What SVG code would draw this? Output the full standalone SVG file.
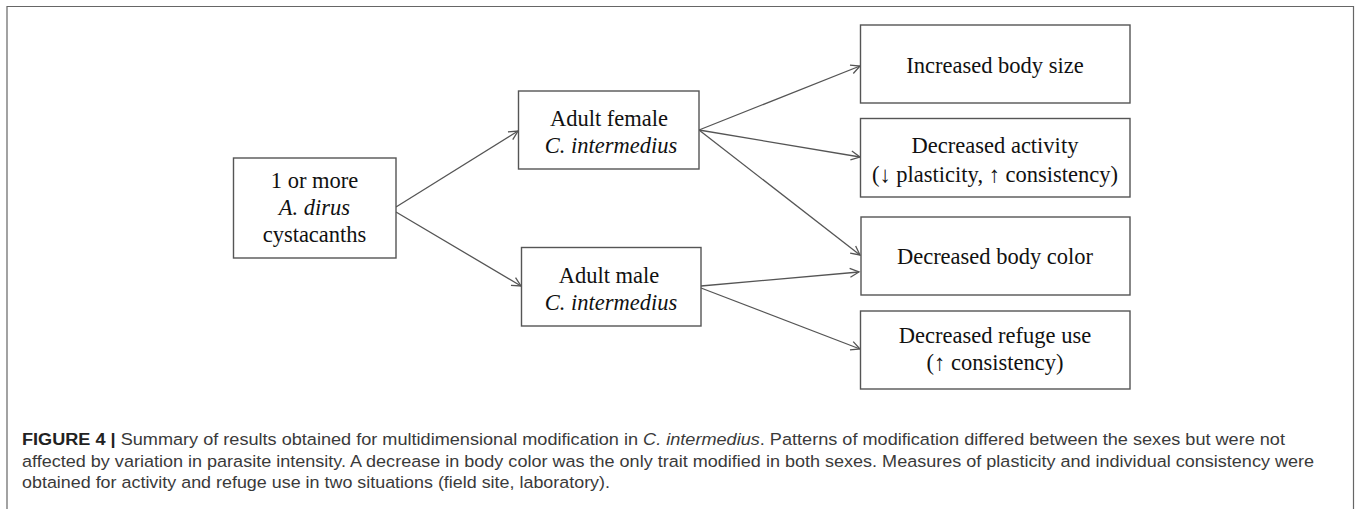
<svg xmlns="http://www.w3.org/2000/svg" width="1357" height="509" viewBox="0 0 1357 509">
<style>
.box{fill:#fff;stroke:#555;stroke-width:1.4}
.t{font-family:"Liberation Serif","Times New Roman",serif;font-size:22.5px;fill:#111;text-anchor:middle}
.i{font-style:italic}
.c{stroke:#555;stroke-width:1.3;fill:none}
.cap{font-family:"Liberation Sans",Arial,sans-serif;font-size:16.8px;fill:#3a3a3a}
</style>
<defs>
<marker id="arr" markerUnits="userSpaceOnUse" markerWidth="12" markerHeight="12" refX="10" refY="5" orient="auto" viewBox="0 0 12 10">
<path d="M1,0.5 L10,5 L1,9.5" fill="none" stroke="#555" stroke-width="1.3"/>
</marker>
</defs>
<rect x="0" y="0" width="1357" height="509" fill="#fff"/>
<path d="M7,520 L7,6.5 L1353.5,6.5 L1353.5,520" fill="none" stroke="#666" stroke-width="1.2"/>
<g id="connectors">
<line class="c" x1="396" y1="207" x2="518" y2="131" marker-end="url(#arr)"/>
<line class="c" x1="396" y1="212" x2="521" y2="286" marker-end="url(#arr)"/>
<line class="c" x1="699" y1="130" x2="860" y2="66" marker-end="url(#arr)"/>
<line class="c" x1="699" y1="130" x2="860" y2="157" marker-end="url(#arr)"/>
<line class="c" x1="699" y1="130" x2="860" y2="255" marker-end="url(#arr)"/>
<line class="c" x1="701" y1="286" x2="859" y2="272" marker-end="url(#arr)"/>
<line class="c" x1="701" y1="288" x2="860" y2="349" marker-end="url(#arr)"/>
</g>
<g id="source">
<rect class="box" x="233.5" y="158" width="162.5" height="100"/>
<text class="t" x="314.5" y="188">1 or more</text>
<text class="t i" x="314.5" y="215">A. dirus</text>
<text class="t" x="314.5" y="242">cystacanths</text>
</g>
<g id="female">
<rect class="box" x="518.5" y="91" width="180.5" height="78"/>
<text class="t" x="609" y="126">Adult female</text>
<text class="t i" x="611" y="153">C. intermedius</text>
</g>
<g id="male">
<rect class="box" x="521.5" y="247.5" width="179.5" height="78.5"/>
<text class="t" x="609" y="283">Adult male</text>
<text class="t i" x="611" y="310">C. intermedius</text>
</g>
<g id="size">
<rect class="box" x="860.5" y="25" width="269.5" height="78"/>
<text class="t" x="995" y="73">Increased body size</text>
</g>
<g id="activity">
<rect class="box" x="860.5" y="118.5" width="269.5" height="78.5"/>
<text class="t" x="995" y="153">Decreased activity</text>
<text class="t" x="995" y="182">(↓ plasticity, ↑ consistency)</text>
</g>
<g id="color">
<rect class="box" x="861" y="217" width="269" height="78"/>
<text class="t" x="995" y="264">Decreased body color</text>
</g>
<g id="refuge">
<rect class="box" x="860.5" y="311" width="269.5" height="78"/>
<text class="t" x="995" y="343">Decreased refuge use</text>
<text class="t" x="995" y="370">(↑ consistency)</text>
</g>
<g id="caption">
<text class="cap" x="22" y="445" textLength="1263" lengthAdjust="spacingAndGlyphs"><tspan font-weight="bold" fill="#222">FIGURE 4 | </tspan>Summary of results obtained for multidimensional modification in <tspan font-style="italic">C. intermedius</tspan>. Patterns of modification differed between the sexes but were not</text>
<text class="cap" x="22" y="467" textLength="1292" lengthAdjust="spacingAndGlyphs">affected by variation in parasite intensity. A decrease in body color was the only trait modified in both sexes. Measures of plasticity and individual consistency were</text>
<text class="cap" x="22" y="488" textLength="588" lengthAdjust="spacingAndGlyphs">obtained for activity and refuge use in two situations (field site, laboratory).</text>
</g>
</svg>
